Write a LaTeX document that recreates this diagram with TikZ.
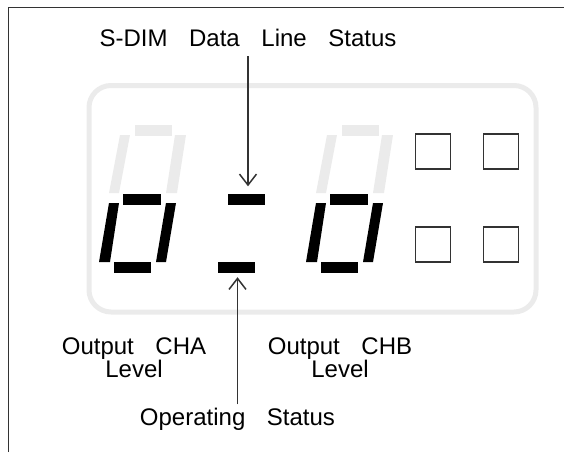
\documentclass[tikz,border=0pt]{standalone}
\usepackage{fontspec}
\setmainfont{Liberation Sans}
\usetikzlibrary{positioning,arrows.meta}
\definecolor{seggray}{HTML}{EBEBEB}
\newcommand\wgap{\hspace{0.9em}}
\tikzset{node distance=68pt, auto,
  lbl/.style={font=\fontsize{24}{23}\selectfont, inner sep=0pt, align=center},
  led/.style={draw=black!80, line width=1.1pt, minimum size=35pt, inner sep=0pt},
  colseg/.style={fill=black, minimum width=37pt, minimum height=11pt, inner sep=0pt},
  pointer/.style={draw=black!80, line width=1.5pt, -{Straight Barb[length=11pt,width=17pt]}}}

\begin{document}
\begin{tikzpicture}[x=1pt,y=-1pt]
  \useasboundingbox (0,0) rectangle (564,452);
  \draw[black!80, line width=1.5pt] (8.5,452) -- (8.5,7.5) -- (564,7.5);
  \draw[seggray, line width=5pt, rounded corners=22pt] (89,85.5) rectangle (536,312);

  \foreach \o in {0,207} {
    \begin{scope}[shift={(\o,0)}]
      \fill[seggray] (135,125) rectangle (172,136);
      \fill[seggray] (120,135) -- (130,135) -- (119,193) -- (109,193) -- cycle;
      \fill[seggray] (175,135) -- (186,135) -- (177,193) -- (166,193) -- cycle;
      \fill (123,194) rectangle (161,205);
      \fill (109,203) -- (119,203) -- (110,262) -- (99,262) -- cycle;
      \fill (166,203) -- (176,203) -- (166,262) -- (156,262) -- cycle;
      \fill (114,262) rectangle (151,273);
    \end{scope}
  }

  \node[colseg] (dtop) at (246.5,199.5) {};
  \node[colseg] (dbot) at (236.5,267.5) {};

  \node[led] (sqa) at (433,151.5) {};
  \node[led] (sqb) [right of=sqa] {};
  \node[led] (sqc) [below of=sqa, node distance=93pt] {};
  \node[led] (sqd) [right of=sqc] {};

  \node[lbl, anchor=base] (sdim) at (248,47) {S-DIM\wgap Data\wgap Line\wgap Status};
  \node[lbl] (cha) at (134,358) {Output\wgap CHA\\Level};
  \node[lbl] (chb) at (340,358) {Output\wgap CHB\\Level};
  \node[lbl, anchor=base] (opstat) at (237.5,425) {Operating\wgap Status};

  \draw[pointer, shorten <=9pt, shorten >=7.5pt] (sdim.south) to (sdim.south |- dtop.north);
  \draw[pointer, shorten <=3pt, shorten >=4pt] (opstat.north) to (opstat.north |- dbot.south);
\end{tikzpicture}
\end{document}
